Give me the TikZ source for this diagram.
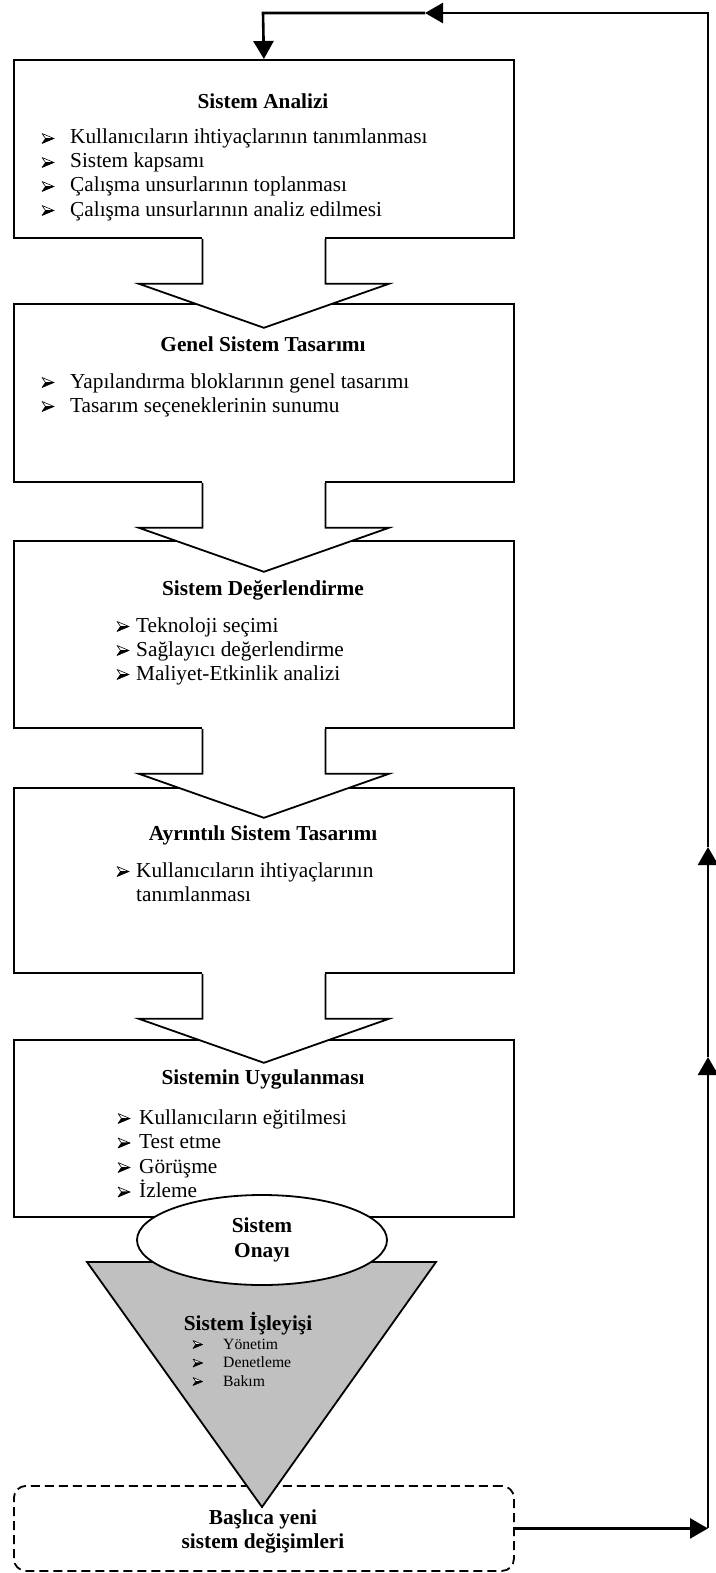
\documentclass[tikz,border=0pt]{standalone}
\usepackage{fontspec}
\setmainfont{Liberation Serif}
\usetikzlibrary{arrows.meta,shapes.geometric,calc}

\newcommand\bodysize{\fontsize{21.3}{24.5}\selectfont}
\newcommand\smallsize{\fontsize{15.7}{19}\selectfont}
\definecolor{funnelgray}{HTML}{C0C0C0}

% one bullet line: name, bullet x, text x, baseline y, text
\newcommand\bline[5]{%
  \pic at (#2,#4-5.5) {arrowbullet};
  \node[itemtext] (#1) at (#3,#4) {#5};}
\newcommand\sline[5]{%
  \pic[scale=0.8] at (#2,#4-4.5) {arrowbullet};
  \node[itemtext,font=\smallsize] (#1) at (#3,#4) {#5};}

% block arrow hanging below a stage box
\newcommand\flowarrow[1]{%
  \fill[white] ($(#1.south)+(-61.5,-2)$) rectangle ($(#1.south)+(61.5,2)$);
  \draw[outline, fill=white] ($(#1.south)+(-61.5,0)$) -- ($(#1.south)+(-61.5,45)$)
    -- ($(#1.south)+(-125,45)$) -- ($(#1.south)+(0,89)$) -- ($(#1.south)+(125,45)$)
    -- ($(#1.south)+(61.5,45)$) -- ($(#1.south)+(61.5,0)$);}

\begin{document}
\begin{tikzpicture}[x=1pt,y=-1pt,
  outline/.style={line width=1.8pt, line join=miter},
  stage/.style={draw, outline, minimum width=500pt, inner sep=0pt, anchor=north west},
  title/.style={anchor=base, inner sep=0pt, font=\bodysize\bfseries},
  itemtext/.style={anchor=base west, inner sep=0pt, font=\bodysize},
  feedback/.style={line width=2.6pt},
  tip/.style={-{Triangle[length=18pt,width=20pt]}},
  arrowbullet/.pic={
    \filldraw[line width=0.6pt, line join=round, fill=white] (0,-5) -- (12,0) -- (3.5,0) -- cycle;
    \filldraw[line width=0.6pt, line join=round, fill=black] (0,5) -- (12,0) -- (3.5,0) -- cycle;}
]
\useasboundingbox (0,0) rectangle (715,1573);

% stage boxes
\node[stage, minimum height=178pt] (b1) at (13,59) {};
\node[stage, minimum height=178pt] (b2) at (13,303) {};
\node[stage, minimum height=187pt] (b3) at (13,540) {};
\node[stage, minimum height=185pt] (b4) at (13,787) {};
\node[stage, minimum height=177pt] (b5) at (13,1039) {};

% block arrows between stages
\flowarrow{b1}
\flowarrow{b2}
\flowarrow{b3}
\flowarrow{b4}

% Sistem Analizi
\node[title] (t1) at (263,109) {Sistem Analizi};
\bline{a1}{42}{70}{144}{Kullanıcıların ihtiyaçlarının tanımlanması}
\bline{a2}{42}{70}{168}{Sistem kapsamı}
\bline{a3}{42}{70}{192}{Çalışma unsurlarının toplanması}
\bline{a4}{42}{70}{216}{Çalışma unsurlarının analiz edilmesi}

% Genel Sistem Tasarımı
\node[title] (t2) at (263,351) {Genel Sistem Tasarımı};
\bline{g1}{42}{70}{388}{Yapılandırma bloklarının genel tasarımı}
\bline{g2}{42}{70}{412}{Tasarım seçeneklerinin sunumu}

% Sistem Değerlendirme
\node[title] (t3) at (263,595) {Sistem Değerlendirme};
\bline{d1}{117}{136}{632}{Teknoloji seçimi}
\bline{d2}{117}{136}{656}{Sağlayıcı değerlendirme}
\bline{d3}{117}{136}{680}{Maliyet-Etkinlik analizi}

% Ayrıntılı Sistem Tasarımı
\node[title] (t4) at (263,840) {Ayrıntılı Sistem Tasarımı};
\bline{r1}{117}{136}{877}{Kullanıcıların ihtiyaçlarının}
\node[itemtext] (r2) at (136,901) {tanımlanması};

% Sistemin Uygulanması
\node[title] (t5) at (263,1084) {Sistemin Uygulanması};
\bline{u1}{118}{139}{1124}{Kullanıcıların eğitilmesi}
\bline{u2}{118}{139}{1148.5}{Test etme}
\bline{u3}{118}{139}{1173}{Görüşme}
\bline{u4}{118}{139}{1197.5}{İzleme}

% major changes box
\node[draw, outline, dash pattern=on 9pt off 5pt, rounded corners=12pt,
      minimum width=500pt, minimum height=85pt, inner sep=0pt, anchor=north west] (d) at (13,1485) {};
\node[title] (d1) at (263,1524) {Başlıca yeni};
\node[title] (d2) at (263,1548.5) {sistem değişimleri};

% operation funnel
\filldraw[outline, fill=funnelgray] (87,1262) -- (436,1262) -- (262,1507) -- cycle;
\node[title] (op) at (248,1330) {Sistem İşleyişi};
\sline{o1}{193}{223}{1349}{Yönetim}
\sline{o2}{193}{223}{1367.5}{Denetleme}
\sline{o3}{193}{223}{1386}{Bakım}

% approval ellipse
\node[ellipse, draw, outline, fill=white, minimum width=250pt, minimum height=90pt,
      inner sep=0pt, align=center, font=\bodysize\bfseries] (e) at (262,1240)
      {Sistem\\Onayı};

% feedback loop
\coordinate (cr) at (708,13);
\coordinate (ct) at (263,13);
\coordinate (rb) at (d.east -| cr);
\coordinate (up1) at (708,1057);
\coordinate (up2) at (708,847);
\coordinate (lt) at (425,13);
\draw[feedback, tip] (d.east) -- (rb);
\draw[feedback, tip] (rb) -- (up1);
\draw[feedback, tip] (up1) -- (up2);
\draw[feedback, tip] (up2) -- (cr) -- (lt);
\draw[feedback, tip] (lt) -- (ct) -- (b1.north);
\end{tikzpicture}
\end{document}
